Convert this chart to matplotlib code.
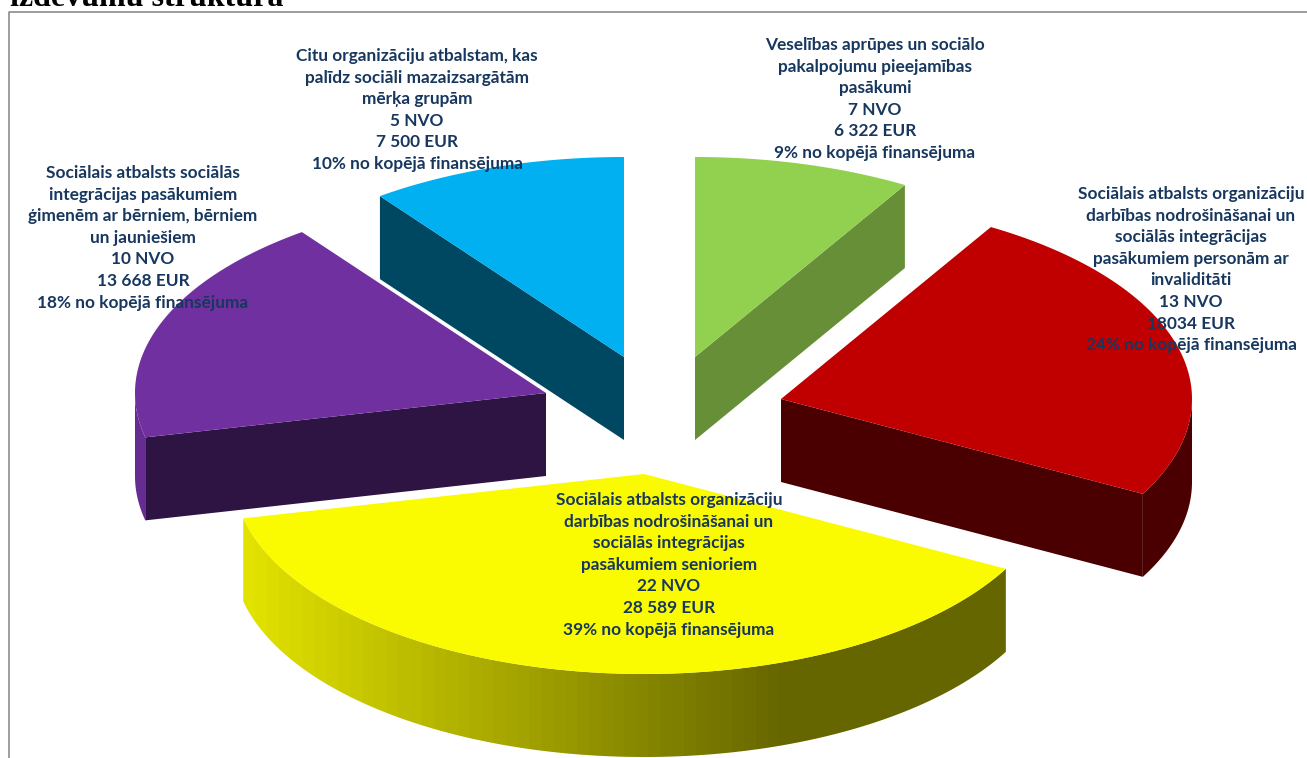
import numpy as np
import matplotlib
matplotlib.use('Agg')
import matplotlib.pyplot as plt
from matplotlib.colors import LinearSegmentedColormap
from matplotlib.patches import Polygon

names = ['Veselības aprūpes un sociālo\npakalpojumu pieejamības\npasākumi',
         'Sociālais atbalsts organizāciju\ndarbības nodrošināšanai un\nsociālās integrācijas\npasākumiem personām ar\ninvaliditāti',
         'Sociālais atbalsts organizāciju\ndarbības nodrošināšanai un\nsociālās integrācijas\npasākumiem senioriem',
         'Sociālais atbalsts sociālās\nintegrācijas pasākumiem\nģimenēm ar bērniem, bērniem\nun jauniešiem',
         'Citu organizāciju atbalstam, kas\npalīdz sociāli mazaizsargātām\nmērķa grupām']
nvo = [7, 13, 22, 10, 5]
eur = [6322, 18034, 28589, 13668, 7500]
eur_labels = ['6 322 EUR', '18034 EUR', '28 589 EUR', '13 668 EUR', '7 500 EUR']
pct_labels = ['9%', '24%', '39%', '18%', '10%']

top_colors = ['#92d050', '#c00000', '#fafa00', '#7030a0', '#00b0f0']
wall_colors = ['#668f37', '#4a0000', '#666600', '#2d1442', '#004761']
rim_colors = ['#668f37', '#4a0000', '#666600', '#662c92', '#004761']
# where each exploded slice has its tip, in pixels
tips = [(695, 357), (781, 399), (644, 474), (546, 393), (624, 357)]
# centre x and y of first text line
label_pos = [(875, 45), (1191, 194), (669, 500), (143, 173), (417, 56)]

rx = 411
ry = 200
depth = 83
line_step = 21.6
text_color = '#17375e'

fig = plt.figure(figsize=(13.07, 7.58), dpi=100)
ax = fig.add_axes([0, 0, 1, 1])
ax.set_xlim(0, 1307)
ax.set_ylim(758, 0)
ax.axis('off')


def arc(tip, a0, a1, n=120):
    t = np.radians(np.linspace(a0, a1, n))
    return np.column_stack([tip[0] + rx * np.sin(t), tip[1] - ry * np.cos(t)])


def outer_wall(tip, a0, a1):
    top = arc(tip, a0, a1)
    bottom = top[::-1] + [0, depth]
    return np.vstack([top, bottom])


def radial_wall(tip, a):
    end = arc(tip, a, a, 1)[0]
    return np.array([tip, end, end + [0, depth], [tip[0], tip[1] + depth]])


shares = np.array(eur) / sum(eur) * 360
ends = np.cumsum(shares)
starts = ends - shares

# back slices first, yellow one last
for i in [4, 0, 3, 1, 2]:
    tip, a0, a1 = tips[i], starts[i], ends[i]
    v0, v1 = max(a0, 90), min(a1, 270)
    if v0 < v1:
        xy = outer_wall(tip, v0, v1)
        if i == 2:
            # yellow rim fades from light on the left to dark
            cmap = LinearSegmentedColormap.from_list('rim', [(0, '#e2e200'), (0.71, '#666600'), (1, '#666600')], N=64)
            im = ax.imshow(np.linspace(0, 1, 256)[None, :], cmap=cmap, aspect='auto',
                           extent=(xy[:, 0].min(), xy[:, 0].max(), xy[:, 1].max(), xy[:, 1].min()),
                           interpolation='nearest')
            im.set_clip_path(Polygon(xy, transform=ax.transData))
            ax.set_xlim(0, 1307)
            ax.set_ylim(758, 0)
        else:
            ax.add_patch(Polygon(xy, fc=rim_colors[i], ec='none'))
    if 0 < a1 < 180:
        ax.add_patch(Polygon(radial_wall(tip, a1), fc=wall_colors[i], ec='none'))
    if 180 < a0 < 360:
        ax.add_patch(Polygon(radial_wall(tip, a0), fc=wall_colors[i], ec='none'))
    face = np.vstack([[tip], arc(tip, a0, a1)])
    ax.add_patch(Polygon(face, fc=top_colors[i], ec='none'))

# frame of the page around the chart
ax.plot([8.5, 8.5, 1307], [758, 11.5, 11.5], color='#8c8c8c', lw=1.2, solid_capstyle='butt')

for i in range(5):
    lines = names[i].split('\n') + [f'{nvo[i]} NVO', eur_labels[i], f'{pct_labels[i]} no kopējā finansējuma']
    x, y = label_pos[i]
    for k, line in enumerate(lines):
        ax.text(x, y + k * line_step, line, ha='center', va='center', color=text_color,
                fontsize=12.4, fontfamily='Lato', fontweight='bold')

ax.text(10, 6, 'izdevumu struktūra', ha='left', va='baseline', color='black', fontsize=23,
        fontfamily='Liberation Serif', fontweight='bold')

fig.savefig('out.png', dpi=100)
